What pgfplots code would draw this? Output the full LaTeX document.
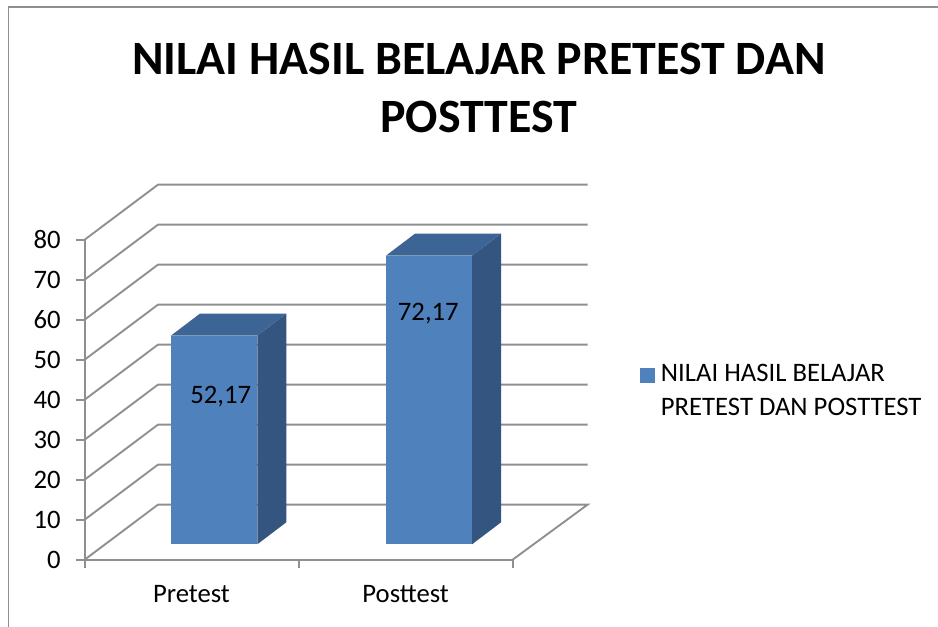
\documentclass[border=0pt]{standalone}
\usepackage{pgfplots}
\pgfplotsset{compat=1.18}
\usepackage{fontspec}
\setmainfont{Carlito}
\definecolor{front}{HTML}{4F81BD}
\definecolor{side}{HTML}{335580}
\definecolor{topf}{HTML}{3C6494}
\definecolor{wall}{HTML}{8F8F8F}
\begin{document}
\begin{tikzpicture}[x=1pt,y=1pt]
\useasboundingbox (0,0) rectangle (703.5,470.25);
\fill[white] (0,0) rectangle (703.5,470.25);
\draw[color=wall,line width=1.2pt] (6.4,0) -- (6.4,464.8) -- (703.5,464.8);
\begin{axis}[
  at={(63.5pt,50.5pt)}, anchor=south west,
  scale only axis, width=321pt, height=240pt,
  xmin=0, xmax=2, ymin=0, ymax=80,
  clip=false,
  axis lines*=left,
  axis line style={-, color=wall, line width=1.4pt},
  major tick style={color=wall, line width=1.4pt},
  tick align=outside,
  major tick length=6.5pt,
  xtick={0,1,2}, xticklabels={},
  extra x ticks={0.499,1.5},
  extra x tick labels={Pretest,Posttest},
  extra x tick style={major tick length=0pt, tick label style={yshift=-16pt}},
  ytick={0,10,...,80},
  tick label style={font=\fontsize{20}{22}\selectfont},
  /pgf/number format/assume math mode=true,
  yticklabel style={xshift=-8pt},
  unbounded coords=jump,
  title={NILAI HASIL BELAJAR PRETEST DAN\\POSTTEST},
  title style={at={(0.921,1.449)}, anchor=center, align=center,
    font=\bfseries\fontsize{35.9}{43.5}\selectfont},
  legend style={at={(416pt,148.5pt)}, anchor=north west, draw=none, fill=none,
    font=\fontsize{20}{25}\selectfont, cells={anchor=west, align=left}, inner sep=0pt,
    row sep=0pt},
  legend image code/.code={\fill[front] (0pt,-5.5pt) rectangle (11.25pt,5.75pt); \path (14pt,0);},
]
% walls and floor
\addplot[color=wall, line width=1.4pt, forget plot] coordinates {
 (2,0)(2.35,13.75)(0.3425,13.75)(0,0)
 (0,nan)
 (0,10)(0.3425,23.75)(2.35,23.75)
 (0,nan)
 (0,20)(0.3425,33.75)(2.35,33.75)
 (0,nan)
 (0,30)(0.3425,43.75)(2.35,43.75)
 (0,nan)
 (0,40)(0.3425,53.75)(2.35,53.75)
 (0,nan)
 (0,50)(0.3425,63.75)(2.35,63.75)
 (0,nan)
 (0,60)(0.3425,73.75)(2.35,73.75)
 (0,nan)
 (0,70)(0.3425,83.75)(2.35,83.75)
 (0,nan)
 (0,80)(0.3425,93.75)(2.35,93.75)
};
% bar 1 side and top faces
\addplot[fill=side, draw=none, yshift=11.5pt, forget plot] coordinates {
 (0.8065,0)(0.942,5.5)(0.942,57.67)(0.8065,52.17)} -- cycle;
\addplot[fill=topf, draw=none, yshift=11.5pt, forget plot] coordinates {
 (0.403,52.17)(0.5385,57.67)(0.942,57.67)(0.8065,52.17)} -- cycle;
% bar 2 side and top faces
\addplot[fill=side, draw=none, yshift=11.5pt, forget plot] coordinates {
 (1.81,0)(1.9455,5.5)(1.9455,77.67)(1.81,72.17)} -- cycle;
\addplot[fill=topf, draw=none, yshift=11.5pt, forget plot] coordinates {
 (1.408,72.17)(1.5435,77.67)(1.9455,77.67)(1.81,72.17)} -- cycle;
% front faces
\addplot[ybar, bar width=64.7pt, fill=front, draw=none, yshift=11.5pt,
  nodes near coords, /pgf/number format/use comma,
  /pgf/number format/fixed, /pgf/number format/precision=2,
  every node near coord/.append style={anchor=center, yshift=-46pt, xshift=5pt,
    text=black, font=\fontsize{20}{22}\selectfont}]
  coordinates {(0.605,52.17)};
\addlegendentry{NILAI HASIL BELAJAR\\PRETEST DAN POSTTEST}
\addplot[ybar, bar width=64.7pt, fill=front, draw=none, yshift=11.5pt, forget plot,
  nodes near coords, /pgf/number format/use comma,
  /pgf/number format/fixed, /pgf/number format/precision=2,
  every node near coord/.append style={anchor=center, yshift=-43.5pt, xshift=-0.5pt,
    text=black, font=\fontsize{20}{22}\selectfont}]
  coordinates {(1.609,72.17)};
\end{axis}
\end{tikzpicture}
\end{document}
